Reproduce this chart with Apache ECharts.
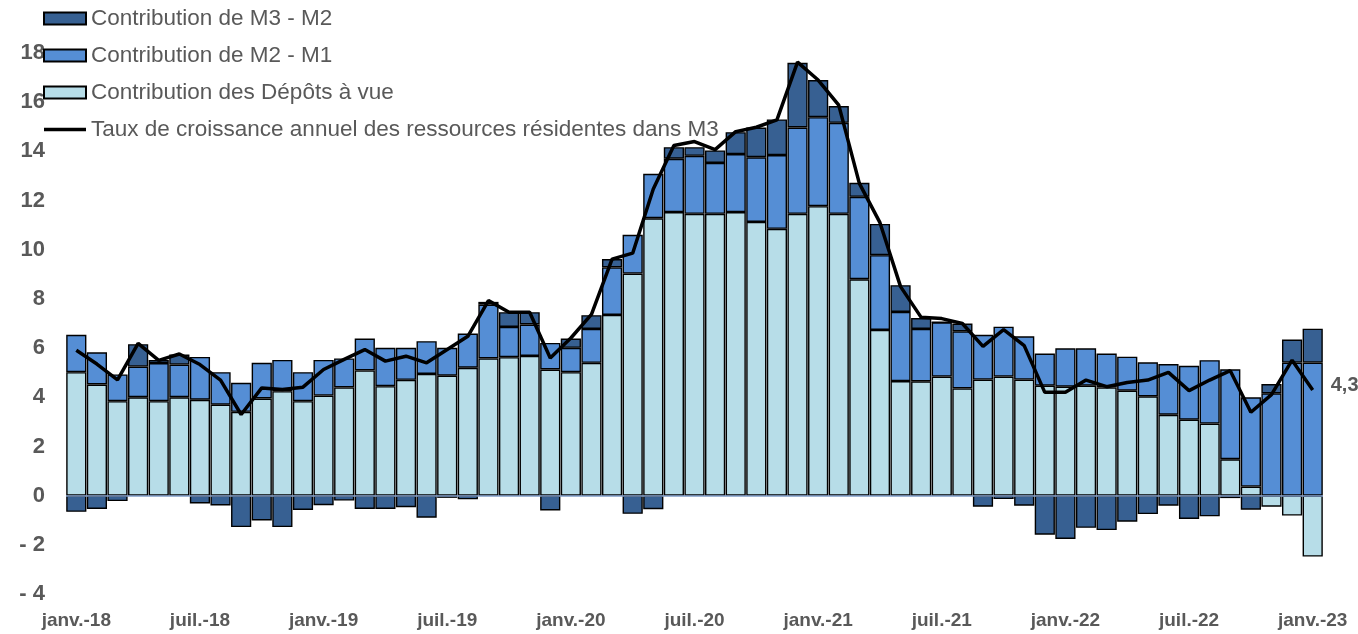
<!DOCTYPE html>
<html>
<head>
<meta charset="utf-8">
<script src="https://cdn.jsdelivr.net/npm/echarts@6/dist/echarts.min.js"></script>
<style>
html,body{margin:0;padding:0;background:#fff;}
#chart{width:1358px;height:634px;}
</style>
</head>
<body>
<div id="chart"></div>
<script>
const categories = [
 'janv.-18','févr.-18','mars-18','avr.-18','mai-18','juin-18','juil.-18','août-18','sept.-18','oct.-18','nov.-18','déc.-18',
 'janv.-19','févr.-19','mars-19','avr.-19','mai-19','juin-19','juil.-19','août-19','sept.-19','oct.-19','nov.-19','déc.-19',
 'janv.-20','févr.-20','mars-20','avr.-20','mai-20','juin-20','juil.-20','août-20','sept.-20','oct.-20','nov.-20','déc.-20',
 'janv.-21','févr.-21','mars-21','avr.-21','mai-21','juin-21','juil.-21','août-21','sept.-21','oct.-21','nov.-21','déc.-21',
 'janv.-22','févr.-22','mars-22','avr.-22','mai-22','juin-22','juil.-22','août-22','sept.-22','oct.-22','nov.-22','déc.-22',
 'janv.-23'
];

const depotsAVue = [
 5.02,4.52,3.84,4.00,3.84,4.00,3.90,3.70,3.41,3.95,4.25,3.84,
 4.07,4.40,5.09,4.45,4.71,4.95,4.88,5.20,5.58,5.63,5.68,5.13,
 5.02,5.40,7.35,9.03,11.28,11.53,11.46,11.46,11.53,11.13,10.85,11.46,
 11.77,11.46,8.80,6.74,4.66,4.65,4.84,4.36,4.72,4.84,4.72,4.47,
 4.43,4.47,4.40,4.27,4.04,3.29,3.09,2.93,1.48,0.37,-0.45,-0.81,
 -2.48
];

const m2MinusM1 = [
 1.52,1.31,1.09,1.25,1.55,1.33,1.74,1.32,1.18,1.45,1.27,1.18,
 1.45,1.18,1.30,1.56,1.30,1.33,1.13,1.39,2.19,1.23,1.28,1.08,
 0.99,1.38,1.93,1.58,1.81,2.17,2.36,2.07,2.36,2.63,3.00,3.51,
 3.62,3.70,3.35,3.04,2.81,2.13,2.21,2.32,1.82,2.03,1.76,1.31,
 1.56,1.52,1.38,1.38,1.38,2.06,2.19,2.58,3.66,3.63,4.16,5.41,
 5.41
];

const m3MinusM2 = [
 -0.66,-0.54,-0.22,0.91,0.13,0.41,-0.32,-0.40,-1.28,-1.01,-1.28,-0.58,
 -0.39,-0.20,-0.54,-0.54,-0.47,-0.90,-0.09,-0.15,0.11,0.60,0.50,-0.60,
 0.38,0.56,0.34,-0.74,-0.55,0.47,0.35,0.51,0.89,1.21,1.45,2.63,
 1.51,0.68,0.57,1.27,1.09,0.44,0.00,0.32,-0.45,-0.14,-0.41,-1.59,
 -1.76,-1.31,-1.40,-1.06,-0.75,-0.41,-0.95,-0.84,-0.10,-0.57,0.38,0.94,
 1.38
];

const tauxM3 = [
 5.91,5.35,4.71,6.19,5.50,5.76,5.33,4.70,3.30,4.38,4.32,4.41,
 5.13,5.54,5.94,5.47,5.67,5.40,5.94,6.48,7.93,7.46,7.46,5.60,
 6.41,7.37,9.62,9.86,12.47,14.24,14.40,14.07,14.80,14.98,15.28,17.63,
 16.90,15.88,12.70,11.10,8.50,7.25,7.20,7.00,6.07,6.75,6.10,4.20,
 4.20,4.70,4.43,4.60,4.70,5.01,4.27,4.70,5.08,3.39,4.11,5.51,
 4.30
];

const yTicks = { min: -4, max: 18, interval: 2 };

const FONT = "'Liberation Sans', Arial, sans-serif";
const GREY = '#595959';

const chart = echarts.init(document.getElementById('chart'), null, {renderer: 'canvas'});

const barBase = {
  type: 'bar',
  stack: 'contrib',
  barCategoryGap: '2%'
};

chart.setOption({
  animation: false,
  backgroundColor: '#fff',
  grid: { left: 66, right: 35, top: 53, bottom: 40, containLabel: false },
  legend: {
    orient: 'vertical',
    left: 38,
    top: 2,
    itemWidth: 42,
    itemHeight: 12,
    itemGap: 14,
    textStyle: { color: GREY, fontSize: 22.5, fontFamily: FONT },
    data: [
      { name: 'Contribution de M3 - M2', icon: 'rect' },
      { name: 'Contribution de M2 - M1', icon: 'rect' },
      { name: 'Contribution des Dépôts à vue', icon: 'rect' },
      { name: 'Taux de croissance annuel des ressources résidentes dans M3', icon: 'path://M0,0H12V1H0Z' }
    ]
  },
  xAxis: [{
    type: 'category',
    data: categories,
    axisLine: { show: false, onZero: false },
    axisTick: { show: false },
    axisLabel: {
      interval: 5,
      color: GREY,
      fontSize: 19,
      fontWeight: 'bold',
      fontFamily: FONT,
      margin: 17
    },
    splitLine: { show: false }
  }],
  yAxis: {
    type: 'value',
    min: yTicks.min,
    max: yTicks.max,
    interval: yTicks.interval,
    axisLine: { show: false },
    axisTick: { show: false },
    splitLine: { show: false },
    axisLabel: {
      color: GREY,
      fontSize: 22,
      fontWeight: 'bold',
      fontFamily: FONT,
      margin: 21,
      formatter: v => v < 0 ? '- ' + Math.abs(v) : String(v)
    }
  },
  series: [
    Object.assign({}, barBase, {
      name: 'Contribution des Dépôts à vue',
      data: depotsAVue,
      itemStyle: { color: '#b7dde8', borderColor: '#000', borderWidth: 1.4 }
    }),
    Object.assign({}, barBase, {
      name: 'Contribution de M2 - M1',
      data: m2MinusM1,
      itemStyle: { color: '#558ed5', borderColor: '#000', borderWidth: 1.4 }
    }),
    Object.assign({}, barBase, {
      name: 'Contribution de M3 - M2',
      data: m3MinusM2,
      itemStyle: { color: '#376092', borderColor: '#000', borderWidth: 1.4 }
    }),
    {
      name: 'Taux de croissance annuel des ressources résidentes dans M3',
      type: 'line',
      data: tauxM3,
      symbol: 'none',
      z: 5,
      lineStyle: { color: '#000', width: 3.5 },
      itemStyle: { color: '#000' },
      endLabel: {
        show: true,
        offset: [10, -4],
        color: GREY,
        fontSize: 20,
        fontWeight: 'bold',
        fontFamily: FONT,
        formatter: p => String(p.value).replace('.', ',')
      },
      markLine: {
        silent: true,
        symbol: 'none',
        label: { show: false },
        lineStyle: { color: '#7f9cc8', width: 1.5, type: 'solid' },
        data: [{ yAxis: 0 }]
      }
    }
  ]
});
</script>
</body>
</html>
